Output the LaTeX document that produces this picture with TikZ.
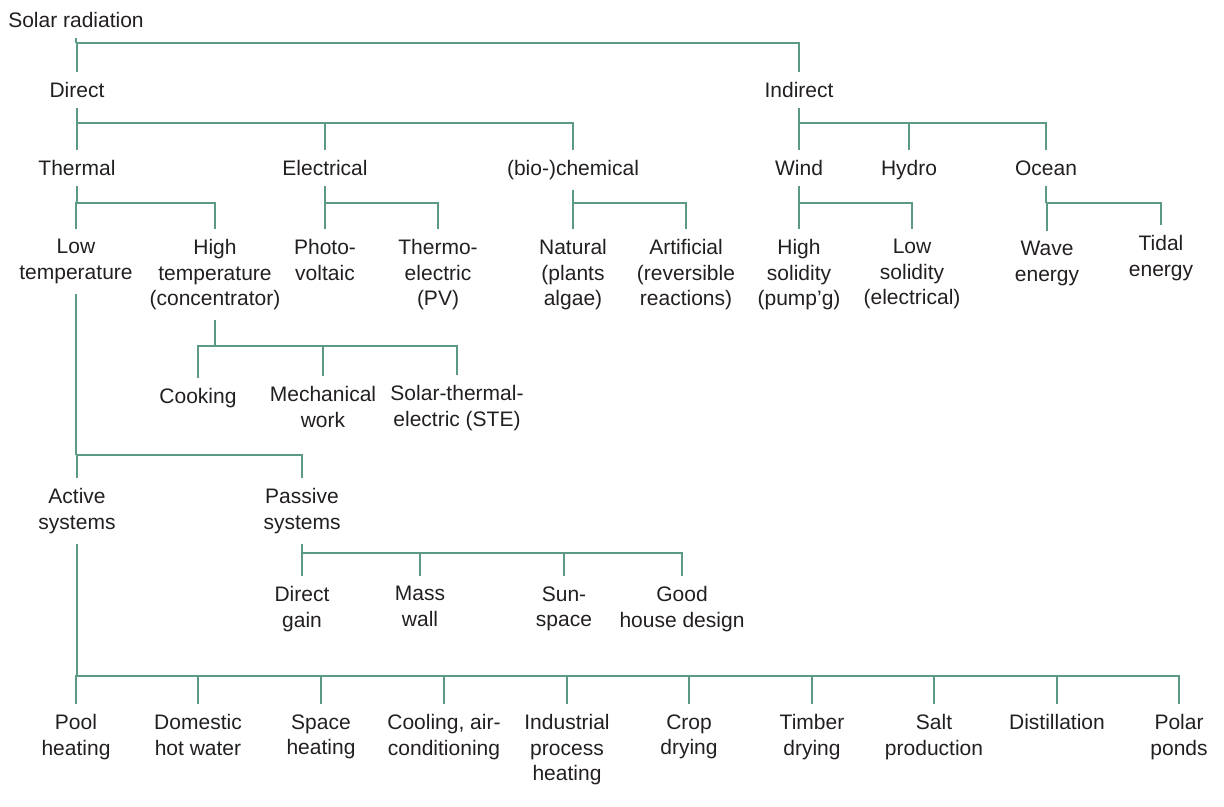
\documentclass[tikz,border=0pt]{standalone}
\usepackage{fontspec}
\setmainfont{Liberation Sans}
\definecolor{tree}{RGB}{92,154,132}
\definecolor{ink}{RGB}{35,31,32}
\tikzset{lbl/.style={anchor=north,align=center,inner xsep=0pt,inner ysep=5pt,
   text=ink,font=\fontsize{10.5}{12.75}\selectfont},
 link/.style={draw=tree,line width=1pt}}
\newcommand{\branch}[3]{\draw[link] (#1.south) -- (#1.south |- 0,#2);
 	\foreach \kid in {#3} {\draw[link] (#1.south |- 0,#2) -| (\kid.north);}}

\begin{document}
\begin{tikzpicture}[x=0.5pt,y=-0.5pt]
	\useasboundingbox (0,0) rectangle (1224,807);
	\node[lbl] (solar) at (76,2) {Solar radiation};
	\node[lbl] (direct) at (77,72) {Direct};
	\node[lbl] (indirect) at (799,72) {Indirect};
	\node[lbl] (thermal) at (77,150) {Thermal};
	\node[lbl] (electrical) at (325,150) {Electrical};
	\node[lbl] (chemical) at (573,150) {(bio-)chemical};
	\node[lbl] (wind) at (799,150) {Wind};
	\node[lbl] (hydro) at (909,150) {Hydro};
	\node[lbl] (ocean) at (1046,150) {Ocean};
	\node[lbl] (lowtemp) at (76,229) {Low\\temperature};
	\node[lbl] (hightemp) at (215,229) {High\\temperature\\(concentrator)};
	\node[lbl] (photo) at (325,229) {Photo-\\voltaic};
	\node[lbl] (thermo) at (438,229) {Thermo-\\electric\\(PV)};
	\node[lbl] (natural) at (573,229) {Natural\\(plants\\algae)};
	\node[lbl] (artificial) at (686,229) {Artificial\\(reversible\\reactions)};
	\node[lbl] (highsol) at (799,229) {High\\solidity\\(pump’g)};
	\node[lbl] (lowsol) at (912,229) {Low\\solidity\\(electrical)};
	\node[lbl] (wave) at (1047,231) {Wave\\energy};
	\node[lbl] (tidal) at (1161,225) {Tidal\\energy};
	\node[lbl] (cooking) at (198,378) {Cooking};
	\node[lbl] (mech) at (323,376) {Mechanical\\work};
	\node[lbl] (ste) at (457,375) {Solar-thermal-\\electric (STE)};
	\node[lbl] (active) at (77,478) {Active\\systems};
	\node[lbl] (passive) at (302,478) {Passive\\systems};
	\node[lbl] (dgain) at (302,576) {Direct\\gain};
	\node[lbl] (mass) at (420,576) {Mass\\wall};
	\node[lbl] (sun) at (564,576) {Sun-\\space};
	\node[lbl] (good) at (682,576) {Good\\house design};
	\foreach \nm/\x/\txt in {pool/76/Pool\\heating, dhw/198/Domestic\\hot water,
	  space/321/Space\\heating, cool/444/{Cooling, air-\\conditioning},
	  indus/567/Industrial\\process\\heating, crop/689/Crop\\drying,
	  timber/812/Timber\\drying, salt/934/Salt\\production,
	  distil/1057/Distillation, polar/1179/Polar\\ponds}
	  \node[lbl] (\nm) at (\x,704) {\txt};
	\branch{solar}{43}{direct,indirect}
	\branch{direct}{123}{thermal,electrical,chemical}
	\branch{indirect}{123}{wind,hydro,ocean}
	\branch{thermal}{203}{lowtemp,hightemp}
	\branch{electrical}{203}{photo,thermo}
	\branch{chemical}{203}{natural,artificial}
	\branch{wind}{203}{highsol,lowsol}
	\branch{ocean}{203}{wave,tidal}
	\branch{hightemp}{346}{cooking,mech,ste}
	\branch{lowtemp}{455}{active,passive}
	\branch{passive}{553}{dgain,mass,sun,good}
	\branch{active}{676}{pool,dhw,space,cool,indus,crop,timber,salt,distil,polar}
\end{tikzpicture}
\end{document}
